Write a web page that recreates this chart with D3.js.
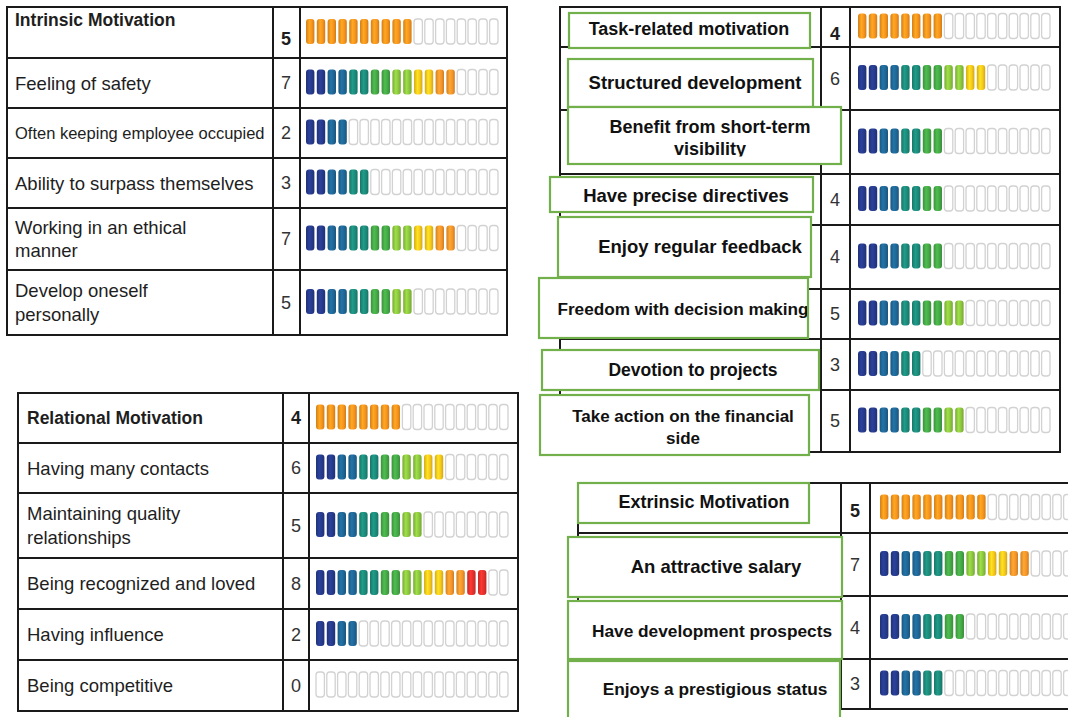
<!DOCTYPE html>
<html><head><meta charset="utf-8">
<script src="https://cdn.jsdelivr.net/npm/d3@7"></script>
<style>html,body{margin:0;padding:0;background:#fff;} svg{display:block;}</style>
</head><body><svg id="c" width="1068" height="717"></svg>
<script>
// ---------- DATA ----------
const intrinsicLabels = ["Intrinsic Motivation","Feeling of safety","Often keeping employee occupied","Ability to surpass themselves","Working in an ethical\nmanner","Develop oneself\npersonally"];
const intrinsicScores = [5,7,2,3,7,5];
const relationalLabels = ["Relational Motivation","Having many contacts","Maintaining quality\nrelationships","Being recognized and loved","Having influence","Being competitive"];
const relationalScores = [4,6,5,8,2,0];
const taskLabels = ["Task-related motivation","Structured development","Benefit from short-term\nvisibility","Have precise directives","Enjoy regular feedback","Freedom with decision making","Devotion to projects","Take action on the financial\nside"];
const taskScores = [4,6,4,4,4,5,3,5];
const extrinsicLabels = ["Extrinsic Motivation","An attractive salary","Have development prospects","Enjoys a prestigious status"];
const extrinsicScores = [5,7,4,3];
const slotsPerPoint = 2;
const slotCount = 18;

// ---------- STYLE / LAYOUT ----------
const pointColors = ["#263a8b","#1f6695","#1c8a7a","#45a846","#8cc63f","#f6c81b","#f5952b","#e3312d","#c01f26"];
const headerColor = "#f7941d";
const slotPitch = 10.8, slotW = 8.4, slotH = 25;
const FONT = "'Liberation Sans', Arial, sans-serif";

const tables = [
  {labels:intrinsicLabels, scores:intrinsicScores, cols:[7,273,300,507], rows:[7,58,108,158,208,270,335],
   barX:306, numX:286, labelX:15, sizes:[17.5,18.5,16.5,18.5,18.5,18.5], headerTop:true, headerNumDy:6},
  {labels:relationalLabels, scores:relationalScores, cols:[18,283,309,518], rows:[393,443,493,558,609,660,711],
   barX:316, numX:296, labelX:27, sizes:[17.5,18.5,18.5,18.5,18.5,18.5], headerTop:false, headerNumDy:0},
  {labels:taskLabels, scores:taskScores, cols:[560,821,850,1060], rows:[7,47,110,174,225,289,339,390,452],
   barX:858, numX:835, headerNumDy:7,
   boxes:[[569,13,810,48,689,35,18],[568,59,813,107,695,89,18.5],[568,107,841,164,710,133,18],
          [550,177,813,212,686,202,18.5],[558,217,811,277,700,253,18.5],[539,278,808,338,683,315,17.2],
          [542,350,819,390,693,376,17.5],[540,395,809,455,683,422,17]]},
  {labels:extrinsicLabels, scores:extrinsicScores, cols:[578,841,870,1100], rows:[483,533,596,659,709],
   barX:880, numX:855, headerNumDy:3,
   boxes:[[578,483,809,523,704,508,18],[568,537,842,597,716,573,18.5],[568,601,842,659,712,637,17.3],
          [568,661,840,740,715,695,17.3]]}
];

const svg = d3.select("#c");
const defs = svg.append("defs");

function gradFor(c){
  const id = "g" + c.replace("#","");
  if (!defs.select("#"+id).empty()) return "url(#"+id+")";
  const g = defs.append("linearGradient").attr("id",id).attr("x1","0").attr("x2","1").attr("y1","0").attr("y2","0");
  const base = d3.color(c);
  g.append("stop").attr("offset","0%").attr("stop-color", base.darker(0.45).formatHex());
  g.append("stop").attr("offset","40%").attr("stop-color", base.brighter(0.35).formatHex());
  g.append("stop").attr("offset","70%").attr("stop-color", base.formatHex());
  g.append("stop").attr("offset","100%").attr("stop-color", base.darker(0.5).formatHex());
  return "url(#"+id+")";
}

const colorScale = d3.scaleQuantize().domain([0, pointColors.length*slotsPerPoint]).range(pointColors);

tables.forEach((t, ti) => {
  const g = svg.append("g");
  const [x0,x1,x2,x3] = t.cols;
  const rows = t.rows;
  const n = t.labels.length;
  const xSlot = d3.scaleLinear().domain([0, slotCount]).range([t.barX, t.barX + slotCount*slotPitch]);

  const clipId = "clip"+ti;
  defs.append("clipPath").attr("id",clipId).append("rect")
    .attr("x",x2+1).attr("y",rows[0]).attr("width",x3-x2-2).attr("height",rows[n]-rows[0]);

  t.labels.forEach((lab, i) => {
    const yTop = rows[i], yBot = rows[i+1], yMid = (yTop+yBot)/2;
    const isHeader = i === 0;
    const score = t.scores[i];
    if (!t.boxes) {
      const fs = t.sizes[i];
      const lines = lab.split("\n");
      const lh = 23.5;
      const txt = g.append("text").attr("x",t.labelX).attr("font-family",FONT).attr("font-size",fs)
        .attr("font-weight", isHeader ? "bold" : "normal").attr("fill","#1e1e1e");
      if (isHeader && t.headerTop) {
        txt.attr("y", yTop+19).text(lab);
      } else {
        lines.forEach((ln, k) => {
          txt.append("tspan").attr("x",t.labelX)
            .attr("y", yMid + (k - (lines.length-1)/2)*lh + 0.36*fs).text(ln);
        });
      }
    }
    g.append("text").attr("x",t.numX).attr("text-anchor","middle")
      .attr("y", yMid + 0.36*18 + (isHeader ? t.headerNumDy : 0))
      .attr("font-family",FONT).attr("font-size",18).attr("font-weight", isHeader ? "bold":"normal")
      .attr("fill", isHeader ? "#1e1e1e" : "#333").text(score);
    const filled = score * slotsPerPoint;
    const slots = d3.range(slotCount).map(s => ({s, on: s < filled}));
    const sg = g.append("g").attr("clip-path","url(#"+clipId+")");
    sg.selectAll("rect").data(slots).join("rect")
      .attr("x", d => xSlot(d.s))
      .attr("y", yMid - slotH/2 - 1)
      .attr("width", slotW).attr("height", slotH)
      .attr("rx", 3).attr("ry", 3)
      .attr("fill", d => d.on ? gradFor(isHeader ? headerColor : colorScale(d.s)) : "#fff")
      .attr("stroke", d => d.on ? "none" : "#d2d2d2")
      .attr("stroke-width", 1.3);
  });

  const lc = "#1a1a1a", lw = 2;
  rows.forEach(y => g.append("line").attr("x1",x0).attr("x2",x3).attr("y1",y).attr("y2",y).attr("stroke",lc).attr("stroke-width",lw));
  [x0,x1,x2,x3].forEach(x => g.append("line").attr("x1",x).attr("x2",x).attr("y1",rows[0]-1).attr("y2",rows[n]+1).attr("stroke",lc).attr("stroke-width",lw));

  if (t.boxes) {
    t.boxes.forEach((b, i) => {
      const [bx0,by0,bx1,by1,cx,base,fs] = b;
      g.append("rect").attr("x",bx0).attr("y",by0).attr("width",bx1-bx0).attr("height",by1-by0)
        .attr("fill","#fff").attr("stroke","#72b04c").attr("stroke-width",2.2);
      const lines = t.labels[i].split("\n");
      const lastBase = base + (lines.length-1)*21.5;
      const cid = "bclip"+ti+"_"+i;
      // two-line text frames cut the glyphs below the last baseline, as in the source
      const h = lines.length > 1 ? Math.min(by1-by0-2, lastBase + 1 - by0) : (by1-by0-2);
      defs.append("clipPath").attr("id",cid).append("rect")
        .attr("x",bx0+1).attr("y",by0+1).attr("width",bx1-bx0-2).attr("height", h);
      const txt = g.append("text").attr("clip-path","url(#"+cid+")").attr("text-anchor","middle")
        .attr("font-family",FONT).attr("font-size",fs).attr("font-weight","bold").attr("fill","#111");
      lines.forEach((ln,k) => txt.append("tspan").attr("x",cx).attr("y",base + k*21.5).text(ln));
    });
  }
});
</script>
</body></html>
